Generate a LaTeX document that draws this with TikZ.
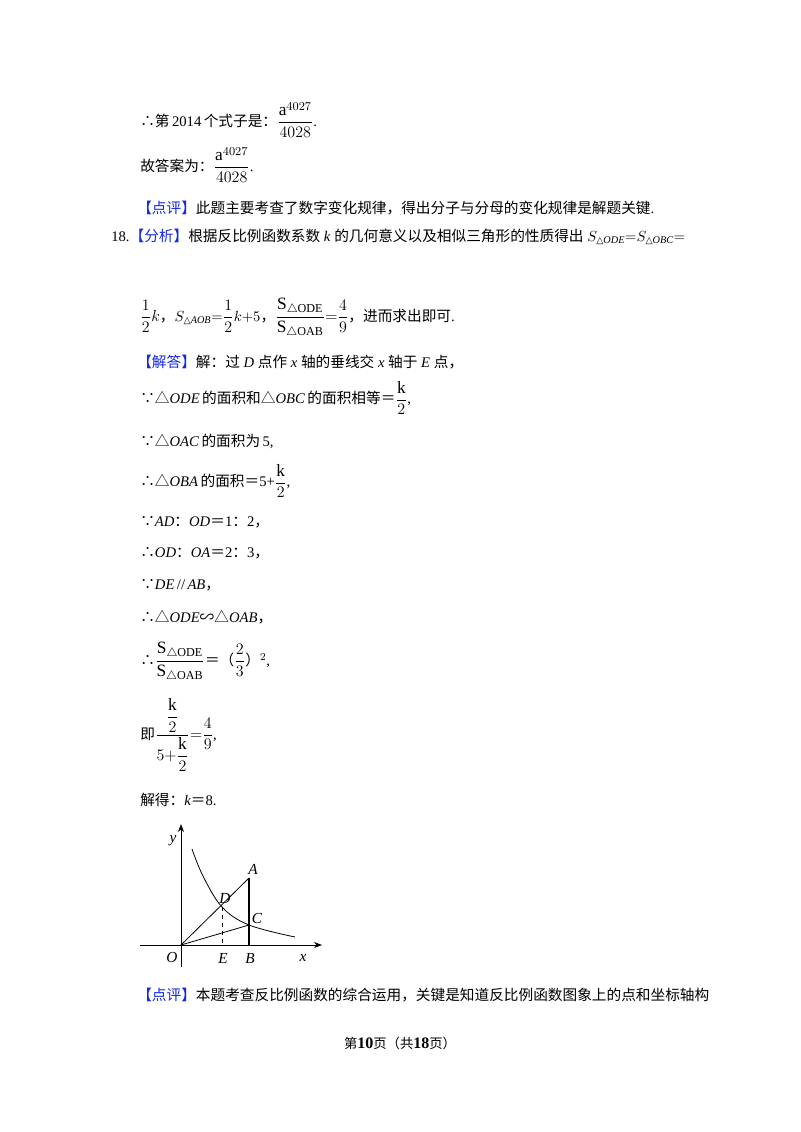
\documentclass[tikz,border=0pt]{standalone}
\usepackage{amsmath}
\usepackage{fontspec}
\usetikzlibrary{arrows.meta}
\setmainfont{Liberation Serif}
\newfontfamily\cjk{Noto Sans CJK SC}
\newfontfamily\dv{DejaVu Sans}
\newcommand{\zh}[1]{{\cjk #1}}
\definecolor{bl}{RGB}{20,40,230}
\newcommand{\hdr}[1]{{\cjk\color{bl}【#1】}}
\newcommand{\tri}{{\dv\scriptsize △}}
\newcommand{\fracbig}[1]{{\fontsize{13}{15}\selectfont$#1$}}
\begin{document}
\begin{tikzpicture}[x=0.75pt,y=-0.75pt,
  txt/.style={anchor=west,inner sep=0pt,font=\fontsize{11}{13}\selectfont},
  ax/.style={-{Stealth[length=6pt]},line width=0.6pt},
  seg/.style={line width=0.6pt},
  lbl/.style={font=\itshape\fontsize{11.5}{13}\selectfont,inner sep=1pt}]
\useasboundingbox[fill=white] (0,0) rectangle (800,1132);
\node[txt] (l1) at (140,120) {\zh{∴第}\,2014\,\zh{个式子是：}\fracbig{\dfrac{\mathrm{a}^{4027}}{4028}}.};
\node[txt] (l2) at (140,165) {\zh{故答案为：}\fracbig{\dfrac{\mathrm{a}^{4027}}{4028}}.};
\node[txt] (l3) at (137,208) {\hdr{点评}\zh{此题主要考查了数字变化规律，得出分子与分母的变化规律是解题关键}.};
\node[txt] (l4) at (111,237) {18.\hdr{分析}\zh{根据反比例函数系数}~\textit{k}~\zh{的几何意义以及相似三角形的性质得出}~$S_{\text{\tri}\mathit{ODE}}{=}S_{\text{\tri}\mathit{OBC}}{=}$};
\node[txt] (l5) at (140,318) {\fracbig{\dfrac{1}{2}k}\zh{，}$S_{\text{\tri}\mathit{AOB}}{=}$\fracbig{\dfrac{1}{2}}$k{+}5$\zh{，}\fracbig{\dfrac{\mathrm{S}_{\triangle\mathrm{ODE}}}{\mathrm{S}_{\triangle\mathrm{OAB}}}{=}\dfrac{4}{9}}\zh{，进而求出即可}.};
\node[txt] (l6) at (137,362) {\hdr{解答}\zh{解：过}~\textit{D}~\zh{点作}~\textit{x}~\zh{轴的垂线交}~\textit{x}~\zh{轴于}~\textit{E}~\zh{点，}};
\node[txt] (l7) at (140,398) {\zh{∵△}\textit{ODE}\,\zh{的面积和△}\textit{OBC}\,\zh{的面积相等＝}\fracbig{\dfrac{\mathrm{k}}{2}},};
\node[txt] (l8) at (140,441) {\zh{∵△}\textit{OAC}\,\zh{的面积为}\,5,};
\node[txt] (l9) at (140,481) {\zh{∴△}\textit{OBA}\,\zh{的面积＝}5+\fracbig{\dfrac{\mathrm{k}}{2}},};
\node[txt] (l10) at (140,522) {\zh{∵}\textit{AD}\zh{：}\textit{OD}\zh{＝}1\zh{：}2\zh{，}};
\node[txt] (l11) at (140,553) {\zh{∴}\textit{OD}\zh{：}\textit{OA}\zh{＝}2\zh{：}3\zh{，}};
\node[txt] (l12) at (140,585) {\zh{∵}\textit{DE}\,//\,\textit{AB}\zh{，}};
\node[txt] (l13) at (140,617) {\zh{∴△}\textit{ODE}\zh{∽△}\textit{OAB}\zh{，}};
\node[txt] (l14) at (140,662) {\zh{∴}\fracbig{\dfrac{\mathrm{S}_{\triangle\mathrm{ODE}}}{\mathrm{S}_{\triangle\mathrm{OAB}}}}\zh{＝（}\fracbig{\dfrac{2}{3}}\zh{）}$^2$,};
\node[txt] (l15) at (140,735) {\zh{即}\fracbig{\dfrac{\;\dfrac{\mathrm{k}}{2}\;}{5{+}\dfrac{\mathrm{k}}{2}}{=}\dfrac{4}{9}},};
\node[txt] (l16) at (140,800) {\zh{解得：}\textit{k}\zh{＝}8.};
% graph
\coordinate (O) at (181,945);
\coordinate (A) at (249,878);
\coordinate (B) at (249,945);
\coordinate (C) at (249,925);
\coordinate (D) at (222,907);
\coordinate (E) at (222,945);
\coordinate (xs) at (140,945); \coordinate (xe) at (322,945);
\coordinate (ys) at (181,967); \coordinate (ye) at (181,824);
\draw[ax] (xs) -- (xe);
\draw[ax] (ys) -- (ye);
\draw[seg] (O) -- (A);
\draw[line width=1pt] (A) -- (B);
\draw[seg] (O) -- (C);
\draw[seg,dashed] (D) -- (E);
\draw[seg] plot[smooth,tension=0.6] coordinates {(192,849) (203,876) (222,907) (249,925) (295,937)};
\node[lbl] (nO) at (172,957) {O};
\node[lbl] (nE) at (223,958) {E};
\node[lbl] (nB) at (250,958) {B};
\node[lbl] (nx) at (303,958) {x};
\node[lbl] (ny) at (173,841) {y};
\node[lbl] (nA) at (253,869) {A};
\node[lbl] (nD) at (225,898) {D};
\node[lbl] (nC) at (257,918) {C};
\node[txt] (l17) at (137,995) {\hdr{点评}\zh{本题考查反比例函数的综合运用，关键是知道反比例函数图象上的点和坐标轴构}};
\node[inner sep=0pt,font=\fontsize{10}{12}\selectfont] (ft) at (400,1043) {\zh{第}{\fontsize{12}{12}\selectfont\textbf{10}}\zh{页（共}{\fontsize{12}{12}\selectfont\textbf{18}}\zh{页）}};
\end{tikzpicture}
\end{document}
